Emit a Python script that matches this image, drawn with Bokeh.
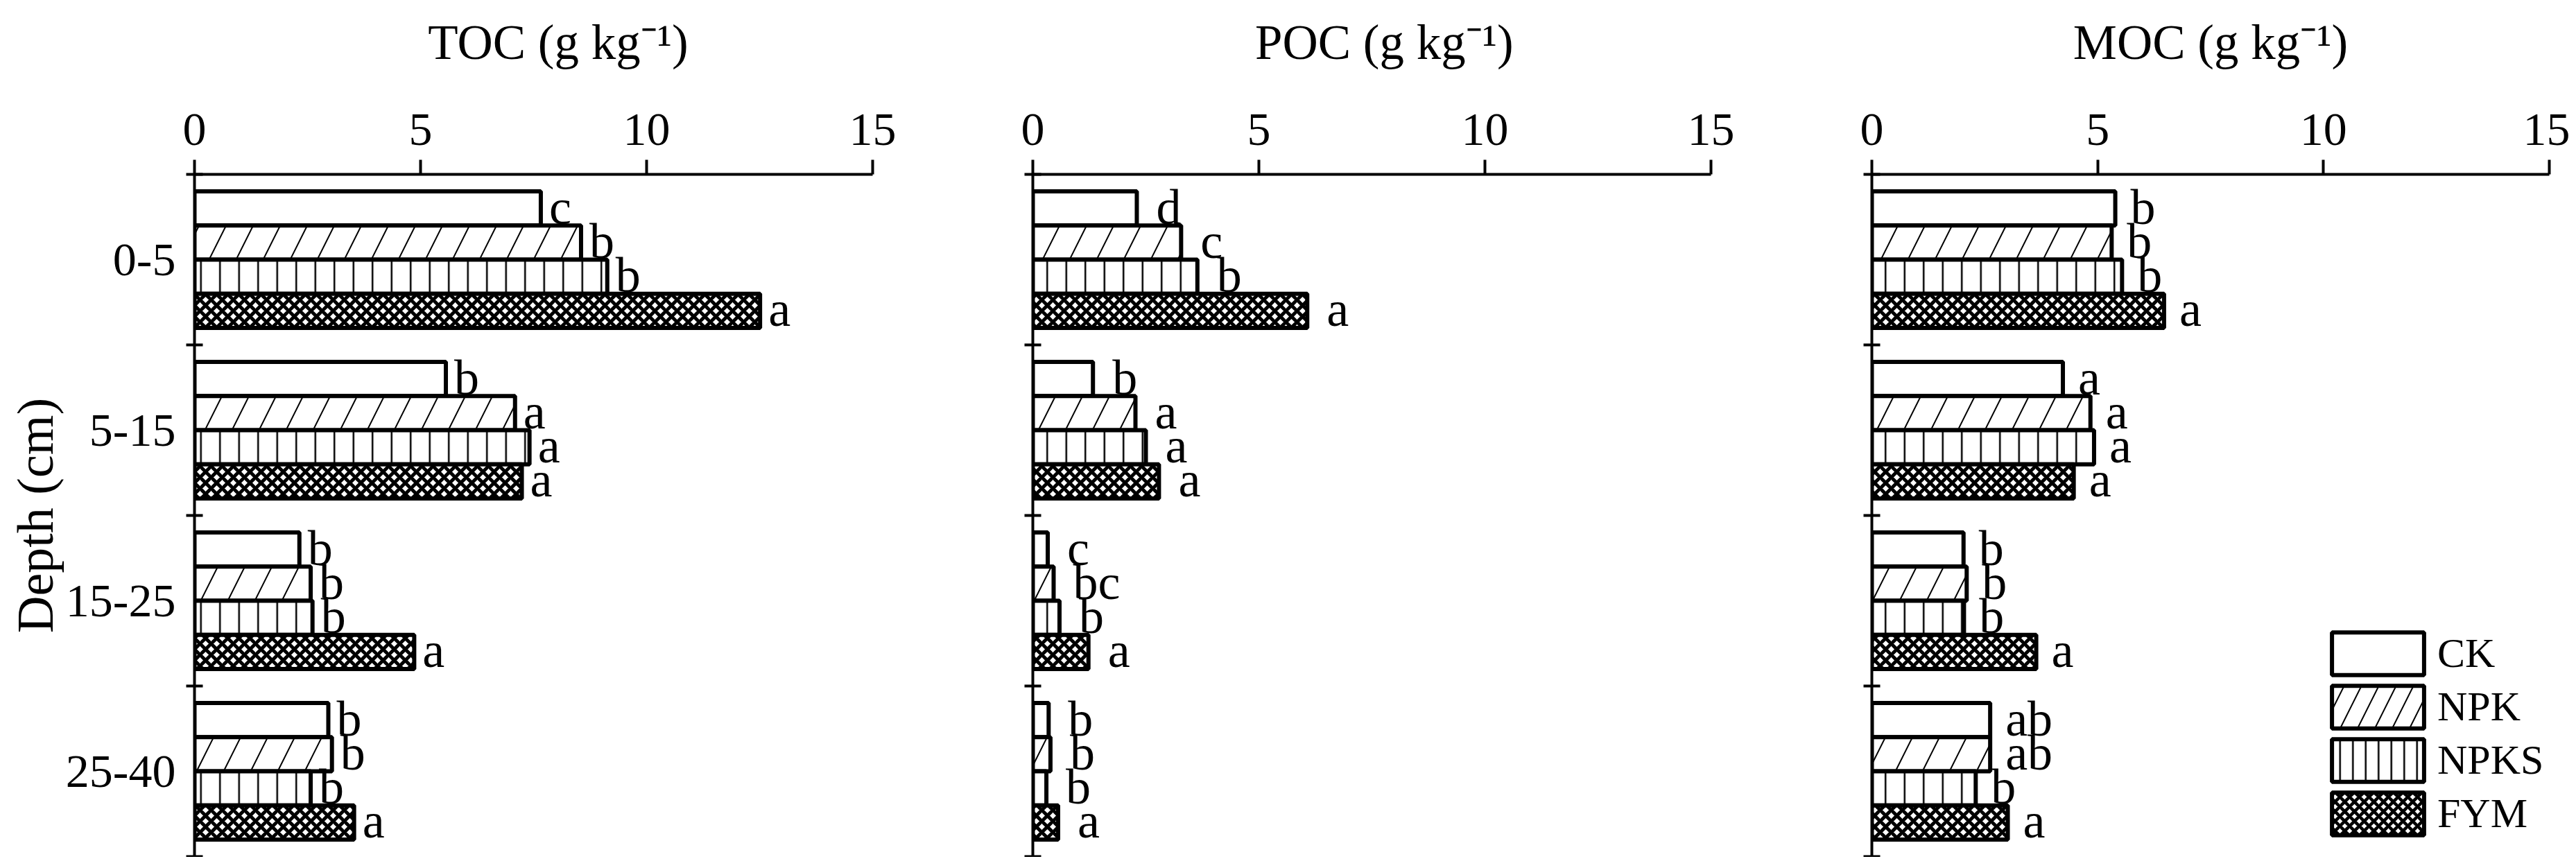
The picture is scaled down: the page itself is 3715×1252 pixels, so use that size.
from bokeh.plotting import figure
from bokeh.layouts import row
from bokeh.models import Range1d, FixedTicker, Legend, LegendItem
from bokeh.core.properties import value
from bokeh.embed import file_html
from bokeh.resources import INLINE

# ---------------- data ----------------
depths = ["0-5", "5-15", "15-25", "25-40"]
treatments = ["CK", "NPK", "NPKS", "FYM"]
x_ticks = [0, 5, 10, 15]

toc_ck = [7.66, 5.56, 2.32, 2.96]
toc_npk = [8.55, 7.09, 2.57, 3.04]
toc_npks = [9.13, 7.41, 2.61, 2.57]
toc_fym = [12.51, 7.24, 4.86, 3.53]
toc_let_ck = ["c", "b", "b", "b"]
toc_let_npk = ["b", "a", "b", "b"]
toc_let_npks = ["b", "a", "b", "b"]
toc_let_fym = ["a", "a", "a", "a"]

poc_ck = [2.30, 1.33, 0.33, 0.35]
poc_npk = [3.28, 2.27, 0.46, 0.39]
poc_npks = [3.64, 2.50, 0.59, 0.30]
poc_fym = [6.07, 2.79, 1.23, 0.56]
poc_let_ck = ["d", "b", "c", "b"]
poc_let_npk = ["c", "a", "bc", "b"]
poc_let_npks = ["b", "a", "b", "b"]
poc_let_fym = ["a", "a", "a", "a"]

moc_ck = [5.39, 4.23, 2.03, 2.62]
moc_npk = [5.31, 4.84, 2.10, 2.62]
moc_npks = [5.54, 4.92, 2.04, 2.30]
moc_fym = [6.47, 4.47, 3.64, 3.01]
moc_let_ck = ["b", "a", "b", "ab"]
moc_let_npk = ["b", "a", "b", "ab"]
moc_let_npks = ["b", "a", "b", "b"]
moc_let_fym = ["a", "a", "a", "a"]

# ---------------- styles ----------------
FONT = "Liberation Serif"
FRAME_H = 984
BAR_OFFSETS = [0.3, 0.1, -0.1, -0.3]
BAR_H = 0.2
HATCH = [
    dict(),
    dict(hatch_pattern="/", hatch_scale=78, hatch_weight=2),
    dict(hatch_pattern="|", hatch_scale=27.5, hatch_weight=2.5),
    dict(hatch_pattern="x", hatch_scale=16, hatch_weight=5),
]
LEG_HATCH = [
    dict(),
    dict(hatch_pattern="/", hatch_scale=50, hatch_weight=2),
    dict(hatch_pattern="|", hatch_scale=18.5, hatch_weight=2.5),
    dict(hatch_pattern="x", hatch_scale=14, hatch_weight=4.5),
]


def make_panel(title, series, letters, letter_dx,
               show_ylabels, lb, rb, fw, legend=False):
    p = figure(x_range=Range1d(0, 15), y_range=Range1d(0, 4),
               frame_width=fw, frame_height=FRAME_H,
               x_axis_location="above",
               min_border_left=lb, min_border_right=rb,
               min_border_top=251, min_border_bottom=1,
               output_backend="svg", toolbar_location=None)
    p.outline_line_color = None
    p.xgrid.visible = False
    p.ygrid.visible = False
    p.background_fill_color = "white"
    p.border_fill_color = "white"

    xa = p.xaxis[0]
    xa.axis_label = title
    xa.axis_label_text_font = FONT
    xa.axis_label_text_font_size = "71px"
    xa.axis_label_text_font_style = "normal"
    xa.axis_label_text_color = "black"
    xa.axis_label_standoff = 62
    xa.ticker = FixedTicker(ticks=x_ticks, minor_ticks=[])
    xa.axis_line_width = 4
    xa.axis_line_color = "black"
    xa.major_tick_line_width = 4
    xa.major_tick_out = 21
    xa.major_tick_in = 0
    xa.minor_tick_line_color = None
    xa.major_label_text_font = FONT
    xa.major_label_text_font_size = "68px"
    xa.major_label_text_color = "black"
    xa.major_label_standoff = 22

    ya = p.yaxis[0]
    centers = [3.5 - i for i in range(len(depths))]
    ya.ticker = FixedTicker(ticks=centers, minor_ticks=[0, 1, 2, 3, 4])
    if show_ylabels:
        ya.major_label_overrides = {c: d for c, d in zip(centers, depths)}
        ya.axis_label = "Depth (cm)"
        ya.axis_label_text_font = FONT
        ya.axis_label_text_font_size = "74px"
        ya.axis_label_text_font_style = "normal"
        ya.axis_label_text_color = "black"
        ya.axis_label_standoff = 0
    else:
        ya.major_label_overrides = {c: "" for c in centers}
    ya.axis_line_width = 4
    ya.axis_line_color = "black"
    ya.major_tick_in = 0
    ya.major_tick_out = 0
    ya.minor_tick_in = 12
    ya.minor_tick_out = 12
    ya.minor_tick_line_width = 4
    ya.minor_tick_line_color = "black"
    ya.major_label_text_font = FONT
    ya.major_label_text_font_size = "68px"
    ya.major_label_text_color = "black"
    ya.major_label_standoff = 15

    for k, (vals, lets) in enumerate(zip(series, letters)):
        ys = [c + BAR_OFFSETS[k] for c in centers]
        p.hbar(y=ys, left=0, right=vals, height=BAR_H,
               fill_color="white", line_color="black", line_width=6,
               hatch_color="black", **HATCH[k])
        p.text(x=vals, y=ys, text=lets, x_offset=letter_dx, y_offset=-2,
               text_baseline="alphabetic", text_align="left",
               text_font=value(FONT), text_font_size="72px", text_color="black")

    if legend:
        items = []
        for k, t in enumerate(treatments):
            # legend swatch renderers (hidden in the plot, shown in the legend)
            r = p.hbar(y=[-10], left=0, right=[1], height=BAR_H,
                       fill_color="white", line_color="black", line_width=6,
                       hatch_color="black", visible=False, **LEG_HATCH[k])
            items.append(LegendItem(label=t, renderers=[r]))
        leg = Legend(items=items, location=(647, 23), orientation="vertical",
                     glyph_width=166, glyph_height=77, spacing=0,
                     padding=0, margin=0, label_standoff=3,
                     border_line_color=None, background_fill_alpha=0,
                     inactive_fill_alpha=0,
                     label_text_font=FONT, label_text_font_size="60px",
                     label_text_color="black")
        p.add_layout(leg)
    return p


p1 = make_panel("\u2002\u2002TOC (g kg⁻¹)",
                [toc_ck, toc_npk, toc_npks, toc_fym],
                [toc_let_ck, toc_let_npk, toc_let_npks, toc_let_fym],
                12, True, 280, 100, 978)
p2 = make_panel("\u2002POC (g kg⁻¹)",
                [poc_ck, poc_npk, poc_npks, poc_fym],
                [poc_let_ck, poc_let_npk, poc_let_npks, poc_let_fym],
                28, False, 131, 100, 978)
p3 = make_panel("MOC (g kg⁻¹)",
                [moc_ck, moc_npk, moc_npks, moc_fym],
                [moc_let_ck, moc_let_npk, moc_let_npks, moc_let_fym],
                22, False, 132, 30, 977, legend=True)

layout = row(p1, p2, p3, spacing=0)
open("out.html", "w").write(file_html(layout, INLINE))
